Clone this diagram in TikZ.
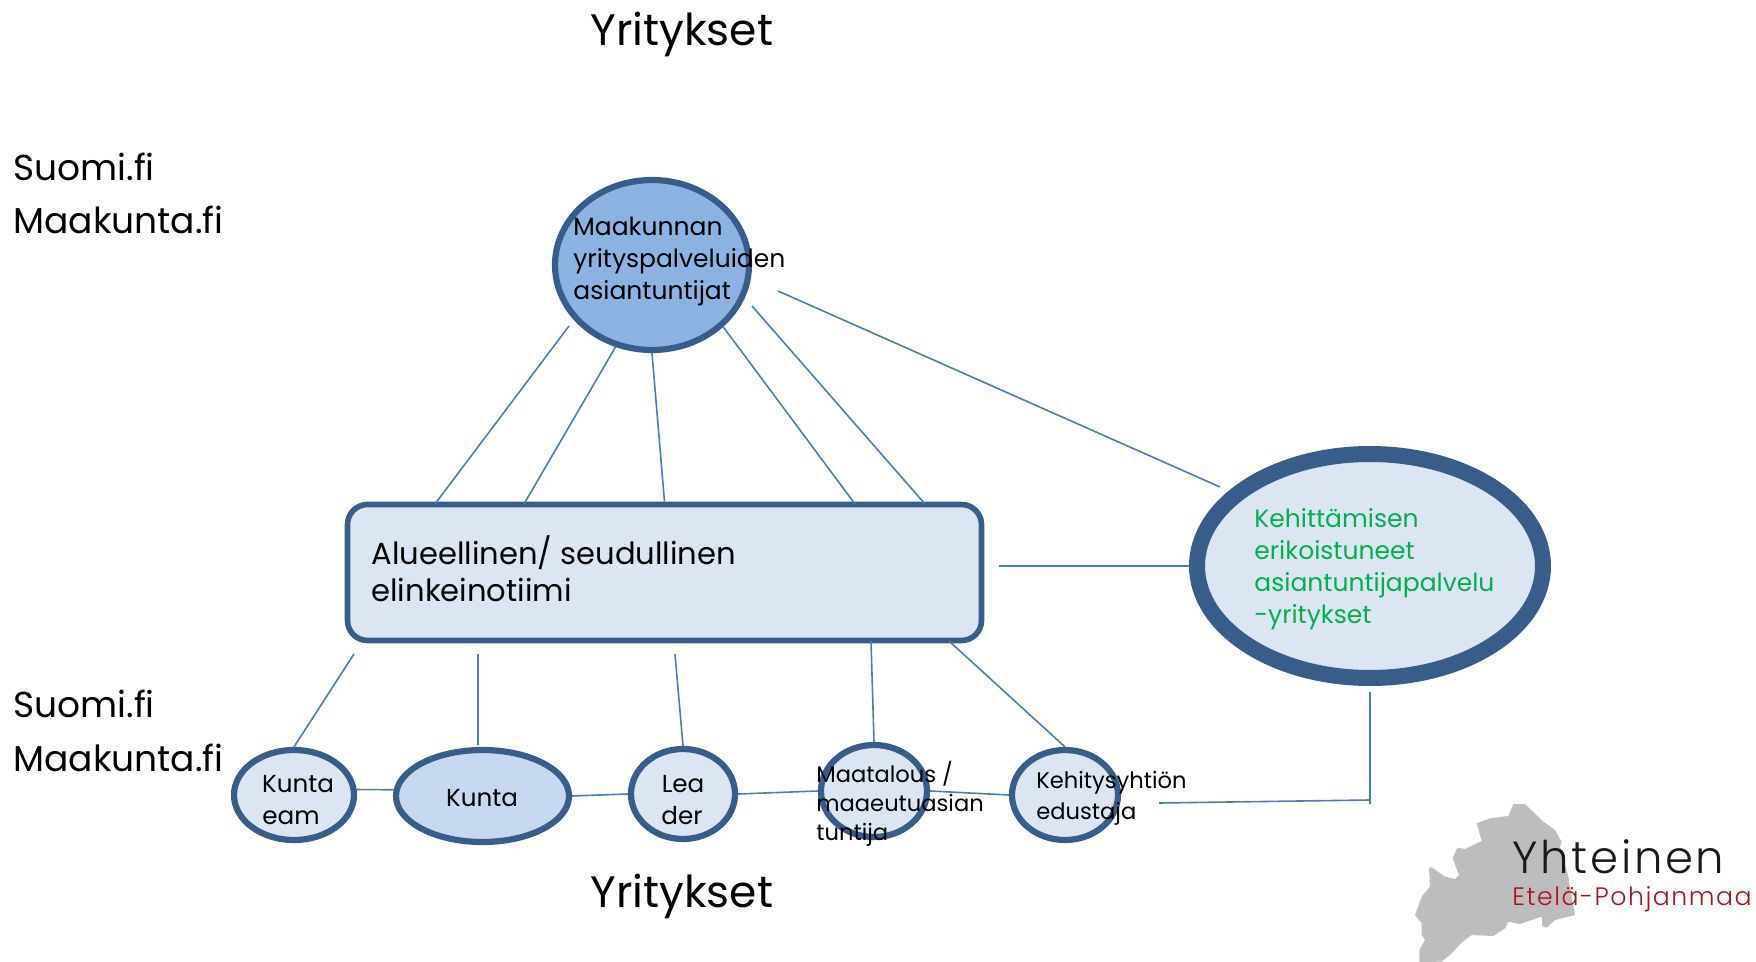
\documentclass[tikz,border=0pt]{standalone}
\usepackage{fontspec}
\setmainfont{Poppins}
\newfontfamily\logofont[LetterSpace=6]{Poppins Light}
\usetikzlibrary{shapes.geometric}

\definecolor{reuna}{HTML}{385D8A}
\definecolor{viiva}{HTML}{4A7EBB}
\definecolor{vaalea}{HTML}{DCE6F2}
\definecolor{keski}{HTML}{C6D9F1}
\definecolor{tumma}{HTML}{8DB3E2}
\definecolor{vihrea}{HTML}{00B050}
\definecolor{logored}{HTML}{B01018}
\definecolor{logogray}{HTML}{BDBCBE}

\tikzset{
    pallo/.style={ellipse, draw=reuna, line width=3.1pt, fill=vaalea, inner sep=0pt},
    yhteys/.style={draw=viiva, line width=0.8pt},
    otsikko/.style={anchor=base west, inner sep=0pt, font=\fontsize{22}{22}\selectfont},
    sivu/.style={anchor=base west, inner sep=0pt, font=\fontsize{18}{18}\selectfont},
    keskus/.style={anchor=base west, inner sep=0pt, font=\fontsize{12.5}{12.5}\selectfont},
    iso/.style={anchor=base west, inner sep=0pt, font=\fontsize{15.3}{15.3}\selectfont},
    vihr/.style={anchor=base west, inner sep=0pt, text=vihrea, font=\fontsize{12.5}{12.5}\selectfont},
    pieni/.style={anchor=base west, inner sep=0pt, font=\fontsize{11.3}{11.3}\selectfont},
    pienik/.style={anchor=base, inner sep=0pt, font=\fontsize{12.3}{12.3}\selectfont}
}

\begin{document}
\begin{tikzpicture}[x=0.5pt, y=-0.5pt]
    \useasboundingbox (0,0) rectangle (1756,962);

    % Logo
    \begin{scope}[shift={(1380,780)}, scale=1/3]
        \fill [logogray] (400,72) -- (435,72) -- (490,125) -- (525,150) -- (545,185)
            -- (540,200) -- (565,290) -- (585,405) -- (525,420) -- (500,443)
            -- (487,438) -- (485,410) -- (420,432) -- (385,425) -- (375,445)
            -- (340,468) -- (275,465) -- (245,488) -- (215,520) -- (185,545)
            -- (118,546) -- (118,510) -- (135,480) -- (125,465) -- (125,430)
            -- (105,405) -- (125,350) -- (150,320) -- (147,265) -- (155,262)
            -- (195,290) -- (225,297) -- (237,285) -- (218,235) -- (232,203)
            -- (255,207) -- (305,183) -- (290,130) -- (330,115) -- (385,108) -- cycle;
    \end{scope}
    \node (yhteinen) [anchor=base west, inner sep=0pt, text=black!90,
        font=\logofont\fontsize{22.5}{22.5}\selectfont] at (1512,873) {Yhteinen};
    \node (etela) [anchor=base west, inner sep=0pt, text=logored,
        font=\logofont\fontsize{12.6}{12.6}\selectfont] at (1512,905) {Etelä-Pohjanmaa};

    % Solmut
    \node (maakunta) [pallo, fill=tumma, minimum width=97pt, minimum height=85pt] at (652,265) {};
    \node (tiimi) [draw=reuna, line width=2.8pt, fill=vaalea, rounded corners=10pt,
        minimum width=317pt, minimum height=68pt, inner sep=0pt] at (664.5,572.5) {};
    \node (kehitys) [pallo, line width=8pt, minimum width=173pt, minimum height=112pt] at (1370,566) {};
    \node (team) [pallo, minimum width=60pt, minimum height=45pt] at (294,795) {};
    \node (kunta) [pallo, fill=keski, minimum width=86.5pt, minimum height=46pt] at (482.5,796) {};
    \node (leader) [pallo, minimum width=52pt, minimum height=45pt] at (683,794) {};
    \node (maatalous) [pallo, minimum width=53pt, minimum height=46pt] at (874,791) {};
    \node (edustaja) [pallo, minimum width=53pt, minimum height=45pt] at (1065,795) {};

    % Vapaat paat
    \coordinate (mA) at (569,326);
    \coordinate (mD) at (752,306);
    \coordinate (tA) at (435,504);
    \coordinate (tB) at (524,504);
    \coordinate (tC) at (855,504);
    \coordinate (tD) at (925,504);
    \coordinate (mE) at (778,291);
    \coordinate (kA) at (1220,487);
    \coordinate (tE) at (999,566);
    \coordinate (aA) at (354,654);
    \coordinate (aB) at (478,654);
    \coordinate (aC) at (675,654);
    \coordinate (aD) at (871,641);
    \coordinate (aE) at (949,641);
    \coordinate (kB) at (478,745);
    \coordinate (eA) at (1159,803);
    \coordinate (eB) at (1370,800);
    \coordinate (kC) at (1370,692);
    \coordinate (kD) at (1370,804);

    % Yhteydet
    \draw [yhteys] (mA) -- (tA)
                   (maakunta.246) -- (tB)
                   (maakunta.south) -- (tiimi.north)
                   (maakunta.319) -- (tC)
                   (mD) -- (tD)
                   (mE) -- (kA)
                   (tE) -- (kehitys.west);
    \draw [yhteys] (aA) -- (team.north)
                   (aB) -- (kB)
                   (aC) -- (leader.north)
                   (aD) -- (maatalous.north)
                   (aE) -- (edustaja.north);
    \draw [yhteys] (team.5) -- (kunta.176)
                   (kunta.east) -- (leader.west)
                   (leader.east) -- (maatalous.west)
                   (maatalous.east) -- (edustaja.west);
    \draw [yhteys] (eA) -- (eB)
                   (kC) -- (kD);

    % Tekstit
    \node (ylos) [otsikko] at (590,46) {Yritykset};
    \node (alas) [otsikko] at (590,907) {Yritykset};
    \node (suomiA) [sivu] at (13,181) {Suomi.fi};
    \node (maakA) [sivu] at (13,234) {Maakunta.fi};
    \node (suomiB) [sivu] at (13,717) {Suomi.fi};
    \node (maakB) [sivu] at (13,771) {Maakunta.fi};

    \node (maakT) [keskus] at (573,236) {Maakunnan};
    \node (maakU) [keskus] at (573,268) {yrityspalveluiden};
    \node (maakV) [keskus] at (573,300) {asiantuntijat};
    \node (tiimiT) [iso] at (371,564) {Alueellinen/ seudullinen};
    \node (tiimiU) [iso] at (371,601) {elinkeinotiimi};
    \node (kehT) [vihr] at (1254,527) {Kehittämisen};
    \node (kehU) [vihr] at (1254,559) {erikoistuneet};
    \node (kehV) [vihr] at (1254,591) {asiantuntijapalvelu};
    \node (kehX) [vihr] at (1254,623) {-yritykset};

    \node (teamT) [pienik] at (298,792) {Kunta};
    \node (teamU) [pienik] at (291,824) {eam};
    \node (kuntaT) [pienik] at (482,806) {Kunta};
    \node (leaderT) [pienik] at (683,792) {Lea};
    \node (leaderU) [pienik] at (682,824) {der};
    \node (maatT) [pieni] at (816,782) {Maatalous /};
    \node (maatU) [pieni] at (816,811) {maaeutuasian};
    \node (maatV) [pieni] at (816,840) {tuntija};
    \node (eduT) [pieni] at (1036,788) {Kehitysyhtiön};
    \node (eduU) [pieni] at (1036,819) {edustaja};
\end{tikzpicture}
\end{document}
